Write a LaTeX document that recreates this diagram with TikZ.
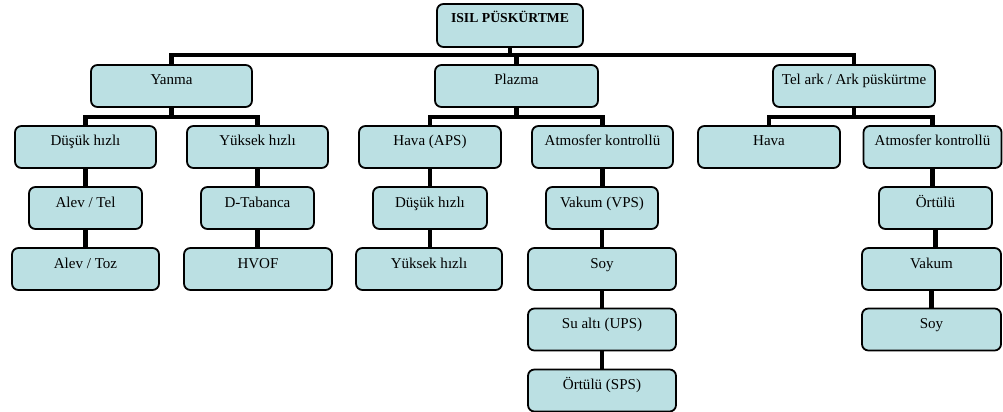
\documentclass[tikz,border=0pt]{standalone}
\usepackage{fontspec}
\setmainfont{Liberation Serif}
\usetikzlibrary{positioning,backgrounds}
\definecolor{boxfill}{HTML}{BBE0E3}

\begin{document}
\begin{tikzpicture}[x=0.25mm, y=-0.25mm,
  every node/.append style={font=\fontsize{10.7pt}{12pt}\selectfont},
  box/.style={draw=black, fill=boxfill, line width=0.45mm, rounded corners=1.6mm,
    minimum height=10.5mm, inner sep=0pt, text height=2.5mm, text depth=3mm},
  conn/.style={line width=1.2mm}
]
\useasboundingbox (0,0) rectangle (1003,412);
% root
\node[box, font=\bfseries\fontsize{9.75pt}{11pt}\selectfont, minimum width=146*0.25mm,
  minimum height=43*0.25mm, text depth=4mm] (isil) at (510,25.5) {ISIL PÜSKÜRTME};
% all other boxes: name/x/y/width/text
\foreach \n/\x/\y/\w/\t in {
  yanma/171.5/86/161/Yanma, plazma/516.5/86/163/Plazma, telark/854/86/162/{Tel ark / Ark püskürtme},
  ydusuk/85.5/147/141/Düşük hızlı, yyuksek/257.5/147/141/Yüksek hızlı,
  phava/430/147/142/Hava (APS), patm/602.5/147/141/Atmosfer kontrollü,
  thava/769/147/142/Hava, tatm/932.5/147/138/Atmosfer kontrollü,
  alevtel/85.5/208/113/{Alev / Tel}, dtab/257.5/208/113/D-Tabanca,
  pdusuk/430/208/114/Düşük hızlı, vps/602/208/112/Vakum (VPS), tortulu/935.5/208/113/Örtülü,
  alevtoz/85.5/269/147/{Alev / Toz}, hvof/258/269/148/HVOF,
  pyuksek/429/269/146/Yüksek hızlı, psoy/602/269/148/Soy, tvakum/931.5/269/139/Vakum,
  ups/602/329.5/148/Su altı (UPS), tsoy/931.5/329.5/139/Soy,
  sps/602/390.5/148/Örtülü (SPS)} {
  \node[box, minimum width=\w*0.25mm] (\n) at (\x,\y) {\t};
}
\coordinate (bar0) at (0,55);
\coordinate (bar1) at (0,117);
\begin{scope}[on background layer]
  \draw[conn] (isil.south) -- (isil.south |- bar0);
  \draw[conn] (yanma.north) |- (bar0 -| telark.north) -- (telark.north);
  \draw[conn] (plazma.north) -- (plazma.north |- bar0);
  % second row bars
  \foreach \p/\a/\b in {yanma/ydusuk/yyuksek, plazma/phava/patm, telark/thava/tatm} {
    \draw[conn] (\p.south) -- (\p.south |- bar1);
    \draw[conn] (\a.north) |- (bar1 -| \b.north) -- (\b.north);
  }
  % vertical chains
  \foreach \a/\b in {ydusuk/alevtel, alevtel/alevtoz, yyuksek/dtab, dtab/hvof,
    phava/pdusuk, pdusuk/pyuksek, patm/vps, vps/psoy, psoy/ups, ups/sps,
    tatm/tortulu, tortulu/tvakum, tvakum/tsoy}
    \draw[conn] (\a.south) -- (\a.south |- \b.north);
\end{scope}
\end{tikzpicture}
\end{document}
